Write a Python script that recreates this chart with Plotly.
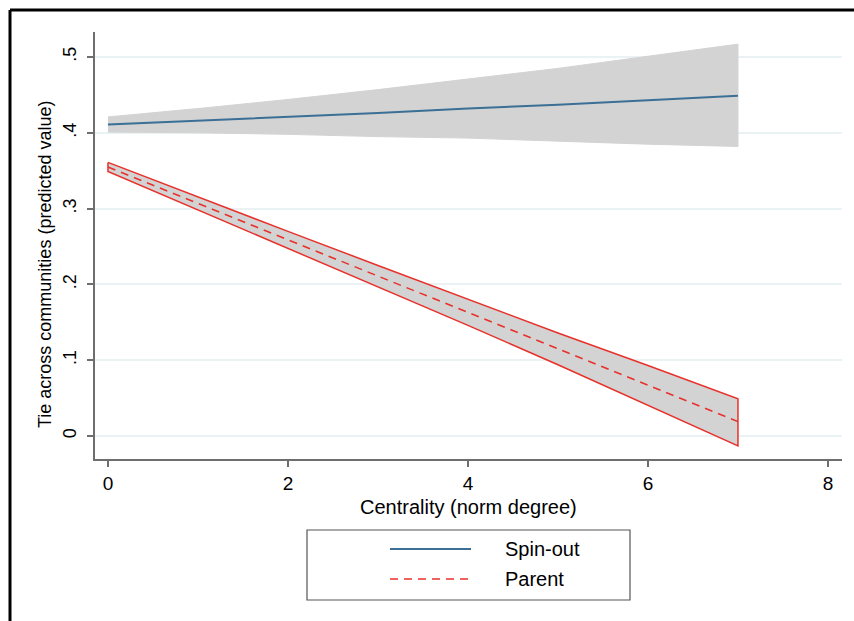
import plotly.graph_objects as go

# Data
centrality = [0, 1, 2, 3, 4, 5, 6, 7]
spin_mean = [0.411, 0.416, 0.421, 0.426, 0.432, 0.437, 0.443, 0.449]
spin_upper = [0.421, 0.432, 0.444, 0.457, 0.471, 0.485, 0.501, 0.517]
spin_lower = [0.401, 0.400, 0.398, 0.395, 0.393, 0.389, 0.385, 0.382]
parent_mean = [0.355, 0.307, 0.259, 0.211, 0.163, 0.115, 0.067, 0.019]
parent_upper = [0.361, 0.315, 0.270, 0.225, 0.180, 0.136, 0.093, 0.049]
parent_lower = [0.349, 0.299, 0.248, 0.197, 0.146, 0.094, 0.041, -0.013]

x_ticks = [0, 2, 4, 6, 8]
y_ticks = [0, 0.1, 0.2, 0.3, 0.4, 0.5]
y_ticklabels = ["0", ".1", ".2", ".3", ".4", ".5"]
series_names = ["Spin-out", "Parent"]

BAND = "#d3d3d3"
BLUE = "#3b6f96"
RED = "#e8312b"
FONT = "Liberation Sans, Arial, Helvetica, sans-serif"
HS = 20   # horizontal text size
VS = 18   # vertical text size

fig = go.Figure()

# Spin-out band
fig.add_trace(go.Scatter(
    x=centrality + centrality[::-1], y=spin_upper + spin_lower[::-1],
    fill="toself", fillcolor=BAND, line=dict(color=BAND, width=1),
    mode="lines", showlegend=False, hoverinfo="skip"))
# Parent band with red outline
fig.add_trace(go.Scatter(
    x=centrality + centrality[::-1] + [centrality[0]],
    y=parent_upper + parent_lower[::-1] + [parent_upper[0]],
    fill="toself", fillcolor=BAND, line=dict(color=RED, width=1.5),
    mode="lines", showlegend=False, hoverinfo="skip"))
# Mean lines
fig.add_trace(go.Scatter(x=centrality, y=spin_mean, mode="lines",
                         line=dict(color=BLUE, width=2), name=series_names[0],
                         showlegend=False))
fig.add_trace(go.Scatter(x=centrality, y=parent_mean, mode="lines",
                         line=dict(color=RED, width=1.6, dash="8px,6px"),
                         name=series_names[1], showlegend=False))

W, H = 854, 621
L, R, T, B = 95, 12, 32, 162
pw, ph = W - L - R, H - T - B

def px(x):
    return (x - L) / pw

def py(y):
    return (H - B - y) / ph

shapes = []
# Outer frame (left & top edges visible)
shapes.append(dict(type="line", xref="paper", yref="paper", x0=px(10), x1=px(860),
                   y0=py(10), y1=py(10), line=dict(color="black", width=3)))
shapes.append(dict(type="line", xref="paper", yref="paper", x0=px(10), x1=px(10),
                   y0=py(10), y1=py(630), line=dict(color="black", width=3)))
# Legend box
shapes.append(dict(type="rect", xref="paper", yref="paper", x0=px(307), x1=px(630),
                   y0=py(600), y1=py(530), line=dict(color="#555555", width=1.2),
                   fillcolor="white"))
shapes.append(dict(type="line", xref="paper", yref="paper", x0=px(390), x1=px(471),
                   y0=py(549), y1=py(549), line=dict(color=BLUE, width=2)))
shapes.append(dict(type="line", xref="paper", yref="paper", x0=px(390), x1=px(471),
                   y0=py(579), y1=py(579), line=dict(color=RED, width=1.6, dash="8px,6px")))

annotations = [
    dict(xref="paper", yref="paper", x=px(503), y=py(549), text=series_names[0],
         showarrow=False, xanchor="left", yanchor="middle",
         font=dict(family=FONT, size=HS, color="black")),
    dict(xref="paper", yref="paper", x=px(503), y=py(579), text=series_names[1],
         showarrow=False, xanchor="left", yanchor="middle",
         font=dict(family=FONT, size=HS, color="black")),
    dict(xref="paper", yref="paper", x=px(468), y=py(507), text="Centrality (norm degree)",
         showarrow=False, xanchor="center", yanchor="middle",
         font=dict(family=FONT, size=HS, color="black")),
    dict(xref="paper", yref="paper", x=px(45), y=py(265),
         text="Tie across communities (predicted value)", textangle=-90,
         showarrow=False, xanchor="center", yanchor="middle",
         font=dict(family=FONT, size=VS, color="black")),
]

fig.update_layout(
    width=W, height=H,
    margin=dict(l=L, r=R, t=T, b=B, autoexpand=False),
    paper_bgcolor="white", plot_bgcolor="white",
    font=dict(family=FONT, size=HS, color="black"),
    shapes=shapes, annotations=annotations, showlegend=False,
    xaxis=dict(range=[-0.144, 8.156], tickvals=x_ticks, ticks="outside", ticklen=6,
               tickcolor="#6e6e6e", tickwidth=1.5, showline=True, linecolor="#6e6e6e",
               linewidth=1.5, showgrid=False, zeroline=False,
               tickfont=dict(size=HS - 1), automargin=False),
    yaxis=dict(range=[-0.0303, 0.533], tickvals=y_ticks, ticktext=y_ticklabels,
               tickangle=-90, ticks="outside", ticklen=6, tickcolor="#6e6e6e",
               tickwidth=1.5, showline=True, linecolor="#6e6e6e", linewidth=1.5,
               showgrid=True, gridcolor="#eaf2f3", gridwidth=1.5, zeroline=False,
               ticklabelstandoff=4,
               tickfont=dict(size=VS), automargin=False),
)

fig.write_html("out.html")
